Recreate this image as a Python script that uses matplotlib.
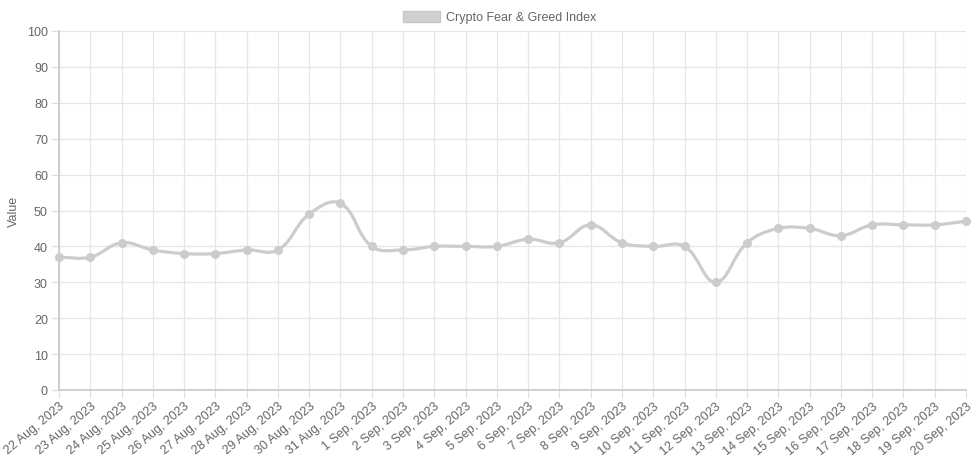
import matplotlib
matplotlib.use("Agg")
import matplotlib.pyplot as plt
from matplotlib.path import Path
from matplotlib.patches import PathPatch, Rectangle
import numpy as np

plt.rcParams['font.family'] = ['Liberation Sans', 'DejaVu Sans']

labels = ["22 Aug, 2023", "23 Aug, 2023", "24 Aug, 2023", "25 Aug, 2023", "26 Aug, 2023",
          "27 Aug, 2023", "28 Aug, 2023", "29 Aug, 2023", "30 Aug, 2023", "31 Aug, 2023",
          "1 Sep, 2023", "2 Sep, 2023", "3 Sep, 2023", "4 Sep, 2023", "5 Sep, 2023",
          "6 Sep, 2023", "7 Sep, 2023", "8 Sep, 2023", "9 Sep, 2023", "10 Sep, 2023",
          "11 Sep, 2023", "12 Sep, 2023", "13 Sep, 2023", "14 Sep, 2023", "15 Sep, 2023",
          "16 Sep, 2023", "17 Sep, 2023", "18 Sep, 2023", "19 Sep, 2023", "20 Sep, 2023"]
values = [37, 37, 41, 39, 38, 38, 39, 39, 49, 52,
          40, 39, 40, 40, 40, 42, 41, 46, 41, 40,
          40, 30, 41, 45, 45, 43, 46, 46, 46, 47]
series_name = "Crypto Fear & Greed Index"
y_ticks = [0, 10, 20, 30, 40, 50, 60, 70, 80, 90, 100]

W, H = 980, 456
fig = plt.figure(figsize=(W / 100, H / 100), dpi=100)
left, right, top, bottom = 59, 966, 32, 391
ax = fig.add_axes([left / W, 1 - bottom / H, (right - left) / W, (bottom - top) / H])

n = len(values)
x = np.arange(n)
ax.set_xlim(0, n - 1)
ax.set_ylim(0, 100)

# Chart.js style spline (tension 0.4), computed in pixel space
sx = (right - left) / (n - 1)
sy = (bottom - top) / 100.0
px = x * sx
py = np.array(values, dtype=float) * sy
t = 0.4
cp_prev = []
cp_next = []
for i in range(n):
    p0 = (px[max(i - 1, 0)], py[max(i - 1, 0)])
    p1 = (px[i], py[i])
    p2 = (px[min(i + 1, n - 1)], py[min(i + 1, n - 1)])
    d01 = np.hypot(p1[0] - p0[0], p1[1] - p0[1])
    d12 = np.hypot(p2[0] - p1[0], p2[1] - p1[1])
    s01 = d01 / (d01 + d12) if (d01 + d12) else 0
    s12 = d12 / (d01 + d12) if (d01 + d12) else 0
    fa = t * s01
    fb = t * s12
    cp_prev.append((p1[0] - fa * (p2[0] - p0[0]), p1[1] - fa * (p2[1] - p0[1])))
    cp_next.append((p1[0] + fb * (p2[0] - p0[0]), p1[1] + fb * (p2[1] - p0[1])))

def to_data(p):
    return (p[0] / sx, min(max(p[1] / sy, 0), 100))

verts = [(x[0], values[0])]
codes = [Path.MOVETO]
for i in range(1, n):
    verts += [to_data(cp_next[i - 1]), to_data(cp_prev[i]), (x[i], values[i])]
    codes += [Path.CURVE4] * 3
path = Path(verts, codes)
line_color = '#cccccc'
ax.add_patch(PathPatch(path, facecolor='none', edgecolor=line_color, lw=2.3,
                       capstyle='round', joinstyle='round', zorder=3))
ax.plot(x, values, 'o', color=line_color, markersize=5.5, zorder=4, clip_on=False)

# grid and axes
ax.set_xticks(x)
ax.set_yticks(y_ticks)
ax.grid(True, color='#e6e6e6', lw=0.9)
ax.set_axisbelow(True)
for s in ['top', 'right']:
    ax.spines[s].set_visible(False)
for s in ['left', 'bottom']:
    ax.spines[s].set_color('#c8c8c8')
    ax.spines[s].set_linewidth(1.2)
ax.tick_params(axis='both', colors='#e0e0e0', length=6, width=0.9,
               labelcolor='#666666', labelsize=9)
ax.tick_params(axis='y', pad=2)
ax.tick_params(axis='x', pad=1)
ax.set_xticklabels(labels, rotation=40, ha='right', rotation_mode='anchor')
ax.set_ylabel('Value', color='#666666', fontsize=9)
ax.yaxis.set_label_coords(-39 / (right - left), 0.5)

# legend
fig.patches.append(Rectangle((403 / W, 1 - 23 / H), 37 / W, 11 / H, transform=fig.transFigure,
                             facecolor='#d0d0d0', edgecolor='#c8c8c8', lw=1))
fig.text(446 / W, 1 - 17.5 / H, series_name, color='#666666', fontsize=9, va='center', ha='left')

fig.savefig('out.png', dpi=100)
